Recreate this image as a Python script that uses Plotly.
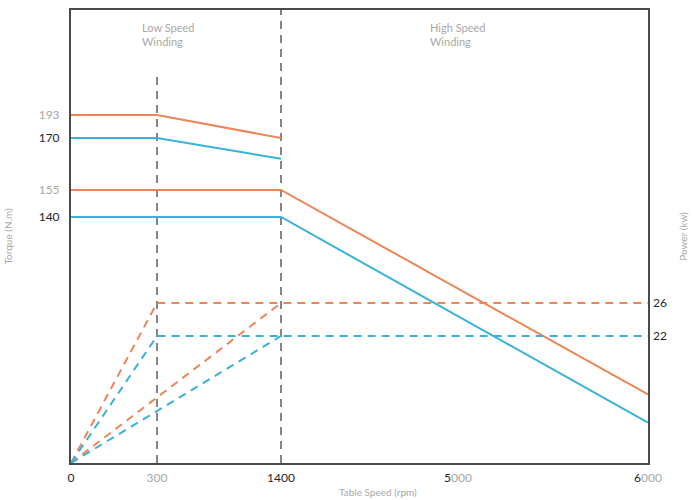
import numpy as np
import plotly.graph_objects as go

# ---- data ----
speed_ticks = [0, 300, 1400, 5000, 6000]
torque_ticks = [140, 155, 170, 193]
power_ticks = [22, 26]

low_speed = [0, 300, 1400]
low_torque_orange = [193, 193, 170]
low_torque_blue = [170, 170, 164]

high_speed = [0, 1400, 6000]
high_torque_orange = [155, 155, 39]
high_torque_blue = [140, 140, 23]

power_speed_low = [0, 300, 6000]
power_low_orange = [0, 26, 26]
power_low_blue = [0, 22, 22]
power_speed_high = [0, 1400]
power_high_orange = [0, 26]
power_high_blue = [0, 22]

divider_speeds = [300, 1400]
divider_top = [0.855, 1.0]  # fraction of plot height

# ---- schematic (non-linear) axis layout ----
speed_axis_pos = [0, 86, 210, 387, 577]
torque_axis_pos = [0, 246, 273, 325, 348]   # torque 0,140,155,170,193
power_axis_pos = [0, 127, 160]               # power 0,22,26
X_MAX, Y_MAX = 577, 453

def sx(v):
    return np.interp(v, speed_ticks, speed_axis_pos)

def ty(v):
    return np.interp(v, [0] + torque_ticks, torque_axis_pos)

def py(v):
    return np.interp(v, [0] + power_ticks, power_axis_pos)

ORANGE = "#EE8556"
BLUE = "#38B2D8"
GRAY = "#858585"
LIGHT = "#A8A8A8"
DARK = "#262626"
FONT = "Lato"

fig = go.Figure()

# vertical dividers
for s, top in zip(divider_speeds, divider_top):
    fig.add_trace(go.Scatter(x=sx([s, s]), y=[0, top * Y_MAX], mode="lines",
                             line=dict(color=GRAY, width=2, dash="8px,6px"),
                             hoverinfo="skip", showlegend=False))

# power (dashed)
for xs, ys, c in [(power_speed_low, power_low_orange, ORANGE),
                  (power_speed_low, power_low_blue, BLUE),
                  (power_speed_high, power_high_orange, ORANGE),
                  (power_speed_high, power_high_blue, BLUE)]:
    fig.add_trace(go.Scatter(x=sx(xs), y=py(ys), mode="lines",
                             line=dict(color=c, width=2, dash="8px,6px"),
                             showlegend=False, yaxis="y2"))

# torque (solid)
for xs, ys, c in [(low_speed, low_torque_orange, ORANGE),
                  (low_speed, low_torque_blue, BLUE),
                  (high_speed, high_torque_orange, ORANGE),
                  (high_speed, high_torque_blue, BLUE)]:
    fig.add_trace(go.Scatter(x=sx(xs), y=ty(ys), mode="lines",
                             line=dict(color=c, width=2),
                             showlegend=False))

def col(t, c):
    return f"<span style='color:{c}'>{t}</span>"

x_text = [col("0", DARK), col("300", LIGHT), col("1400", DARK),
          col("5", DARK) + col("000", LIGHT), col("6", DARK) + col("000", LIGHT)]
y_text = [col("140", DARK), col("155", LIGHT), col("170", DARK), col("193", LIGHT)]
y2_text = [col("22", DARK), col("26", DARK)]

fig.update_layout(
    width=694, height=500,
    margin=dict(l=71, r=46, t=10, b=37, autoexpand=False),
    paper_bgcolor="white", plot_bgcolor="white",
    font=dict(family=FONT, size=12, color=LIGHT),
    xaxis=dict(range=[0, X_MAX], tickvals=sx(speed_ticks), ticktext=x_text,
               showgrid=False, zeroline=False, showline=True, mirror=True,
               linecolor="#4a4a4a", linewidth=2, ticks="", tickfont=dict(size=12),
               ticklabelstandoff=3),
    yaxis=dict(range=[0, Y_MAX], tickvals=ty(torque_ticks), ticktext=y_text,
               showgrid=False, zeroline=False, showline=True, mirror=True,
               linecolor="#4a4a4a", linewidth=2, ticks="", tickfont=dict(size=12),
               ticklabelstandoff=7,
               title=dict(text="Torque (N.m)", font=dict(size=10, color=LIGHT), standoff=24)),
    yaxis2=dict(range=[0, Y_MAX], overlaying="y", side="right",
                tickvals=py(power_ticks), ticktext=y2_text,
                showgrid=False, zeroline=False, showline=False, ticks="",
                tickfont=dict(size=12), ticklabelstandoff=4,
                title=dict(text="Power (kw)", font=dict(size=10, color=LIGHT), standoff=14)),
)

fig.add_annotation(x=sx(300) - 17, y=Y_MAX - 24, xref="x", yref="y",
                   text="Low Speed<br>Winding", showarrow=False,
                   xanchor="left", yanchor="middle", align="left",
                   font=dict(size=11, color=LIGHT))
fig.add_annotation(x=357, y=Y_MAX - 24, xref="x", yref="y",
                   text="High Speed<br>Winding", showarrow=False,
                   xanchor="left", yanchor="middle", align="left",
                   font=dict(size=11, color=LIGHT))
fig.add_annotation(x=307, y=-29 / Y_MAX, xref="x", yref="paper",
                   text="Table Speed (rpm)", showarrow=False,
                   xanchor="center", yanchor="middle",
                   font=dict(size=10, color=LIGHT))

fig.write_html("out.html", config={"displayModeBar": False},
               post_script="document.body.style.margin='0';")
